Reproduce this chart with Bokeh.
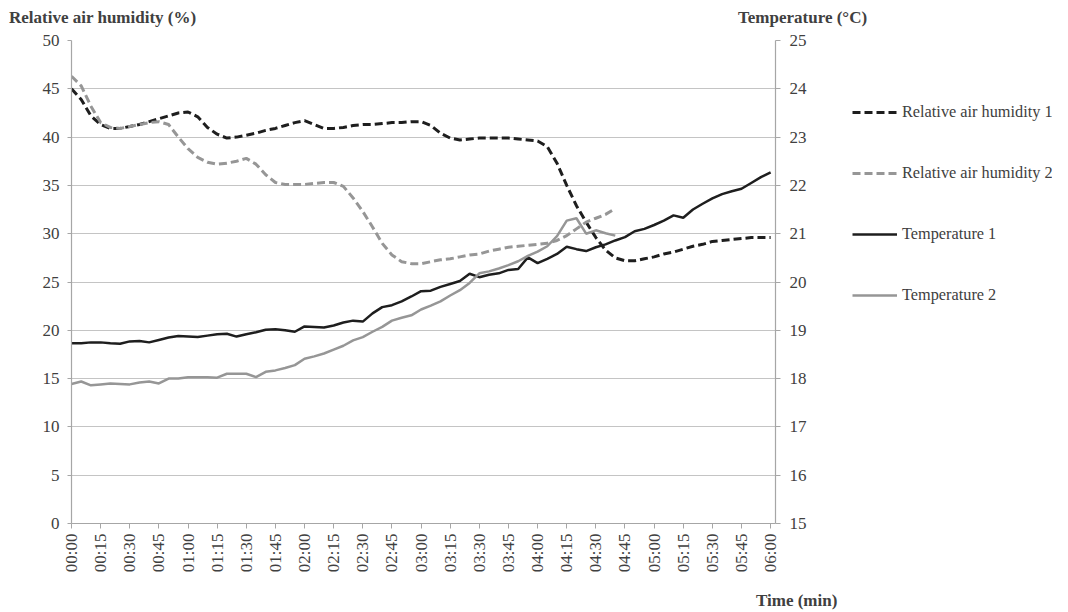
import math
from bokeh.plotting import figure
from bokeh.models import Range1d, LinearAxis, FixedTicker, Legend, LegendItem, Div
from bokeh.layouts import column, row
from bokeh.embed import file_html
from bokeh.resources import INLINE

# time in minutes since start (5-minute sampling)
time_min = list(range(0, 361, 5))

rh1 = [45.0, 43.9, 42.2, 41.3, 40.9, 40.9, 41.1, 41.3, 41.6, 41.9,
       42.2, 42.5, 42.6, 42.1, 41.0, 40.3, 39.9, 40.0, 40.2, 40.4,
       40.7, 40.9, 41.2, 41.5, 41.7, 41.3, 40.9, 40.9, 41.0, 41.2,
       41.3, 41.3, 41.4, 41.5, 41.5, 41.6, 41.6, 41.2, 40.4, 39.9,
       39.7, 39.8, 39.9, 39.9, 39.9, 39.9, 39.8, 39.7, 39.6, 39.0,
       37.3, 35.0, 32.9, 31.2, 29.6, 28.3, 27.5, 27.2, 27.2, 27.4,
       27.6, 27.9, 28.1, 28.4, 28.7, 28.9, 29.2, 29.3, 29.4, 29.5,
       29.6, 29.6, 29.6]

rh2 = [46.3, 45.3, 43.2, 41.5, 41.0, 40.9, 41.1, 41.3, 41.5, 41.6,
       41.3, 40.0, 38.8, 37.9, 37.4, 37.2, 37.3, 37.5, 37.8, 37.2,
       36.1, 35.3, 35.1, 35.1, 35.1, 35.2, 35.3, 35.3, 34.9, 33.7,
       32.3, 30.7, 29.0, 27.8, 27.1, 26.9, 26.9, 27.1, 27.3, 27.4,
       27.6, 27.8, 27.9, 28.2, 28.4, 28.6, 28.7, 28.8, 28.9, 29.0,
       29.3, 29.8, 30.5, 31.2, 31.6, 32.0, 32.6]

t1 = [18.73, 18.73, 18.75, 18.75, 18.73, 18.72, 18.77, 18.78, 18.75, 18.80,
      18.85, 18.88, 18.87, 18.86, 18.89, 18.92, 18.93, 18.87, 18.92, 18.96,
      19.01, 19.02, 19.00, 18.97, 19.08, 19.07, 19.06, 19.10, 19.16, 19.20,
      19.18, 19.35, 19.48, 19.52, 19.60, 19.70, 19.81, 19.82, 19.90, 19.96,
      20.02, 20.17, 20.10, 20.15, 20.18, 20.25, 20.27, 20.51, 20.39, 20.48,
      20.58, 20.73, 20.68, 20.64, 20.72, 20.78, 20.86, 20.93, 21.05, 21.10,
      21.18, 21.27, 21.38, 21.33, 21.50, 21.62, 21.73, 21.82, 21.88, 21.93,
      22.05, 22.17, 22.27]

t2 = [17.89, 17.94, 17.86, 17.88, 17.90, 17.89, 17.88, 17.92, 17.94, 17.90,
      18.00, 18.00, 18.03, 18.03, 18.03, 18.02, 18.10, 18.10, 18.10, 18.03,
      18.14, 18.17, 18.22, 18.28, 18.41, 18.46, 18.52, 18.60, 18.68, 18.79,
      18.86, 18.97, 19.07, 19.20, 19.26, 19.31, 19.43, 19.51, 19.60, 19.72,
      19.83, 19.98, 20.18, 20.22, 20.28, 20.35, 20.43, 20.54, 20.63, 20.74,
      20.95, 21.27, 21.32, 21.00, 21.07, 21.01, 20.96]

tick_minutes = [0, 15, 30, 45, 60, 75, 90, 105, 120, 135, 150, 165, 180,
                195, 210, 225, 240, 255, 270, 285, 300, 315, 330, 345, 360]
tick_labels = ["00:00", "00:15", "00:30", "00:45", "01:00", "01:15", "01:30",
               "01:45", "02:00", "02:15", "02:30", "02:45", "03:00", "03:15",
               "03:30", "03:45", "04:00", "04:15", "04:30", "04:45", "05:00",
               "05:15", "05:30", "05:45", "06:00"]
rh_ticks = [0, 5, 10, 15, 20, 25, 30, 35, 40, 45, 50]
temp_ticks = [15, 16, 17, 18, 19, 20, 21, 22, 23, 24, 25]

series_names = ["Relative air humidity 1", "Relative air humidity 2",
                "Temperature 1", "Temperature 2"]
left_title = "Relative air humidity (%)"
right_title = "Temperature (°C)"
x_title = "Time (min)"

FONT = "Liberation Serif"
TXT = "#404040"
AX = "#a6a6a6"
BLACK = "#1e1e1e"
GRAY = "#969696"
FS = "17px"

styles = [dict(line_color=BLACK, line_width=3, line_dash="8 4"),
          dict(line_color=GRAY, line_width=3, line_dash="8 4"),
          dict(line_color=BLACK, line_width=2.5),
          dict(line_color=GRAY, line_width=2.5)]
series_y = [rh1, rh2, t1, t2]

# ---------------- main chart ----------------
p = figure(width=827, height=552, output_backend="svg", toolbar_location=None,
           x_range=Range1d(0, 362.5), y_range=Range1d(0, 50),
           min_border_left=71, min_border_right=52, min_border_top=8,
           min_border_bottom=61)
p.extra_y_ranges = {"temp": Range1d(15, 25)}
p.outline_line_color = None
p.background_fill_color = "white"
p.border_fill_color = "white"
p.xgrid.visible = False
p.ygrid.ticker = FixedTicker(ticks=rh_ticks)
p.ygrid.grid_line_color = "#c4c4c4"
p.ygrid.grid_line_width = 1.2

p.line(time_min, rh1, **styles[0])
p.line(time_min[:len(rh2)], rh2, **styles[1])
p.line(time_min, t1, y_range_name="temp", **styles[2])
p.line(time_min[:len(t2)], t2, y_range_name="temp", **styles[3])

def style_axis(ax):
    ax.axis_line_color = AX
    ax.axis_line_width = 1.2
    ax.major_tick_line_color = AX
    ax.major_tick_in = 0
    ax.major_tick_out = 5
    ax.minor_tick_line_color = None
    ax.major_label_text_font = FONT
    ax.major_label_text_font_size = FS
    ax.major_label_text_color = TXT

xa = p.xaxis[0]
style_axis(xa)
xa.ticker = FixedTicker(ticks=tick_minutes)
xa.major_label_overrides = {m: l for m, l in zip(tick_minutes, tick_labels)}
xa.major_label_orientation = math.pi / 2
xa.major_label_standoff = 5

ya = p.yaxis[0]
style_axis(ya)
ya.ticker = FixedTicker(ticks=rh_ticks)
ya.major_tick_out = 4
ya.major_label_standoff = 8

ra = LinearAxis(y_range_name="temp", ticker=FixedTicker(ticks=temp_ticks))
style_axis(ra)
ra.major_label_standoff = 9
p.add_layout(ra, "right")

# ---------------- legend panel ----------------
# the key renderers hold the same series but lie outside this panel's ranges,
# so only their legend samples are visible
pl = figure(width=225, height=552, output_backend="svg", toolbar_location=None,
            x_range=Range1d(-2, -1), y_range=Range1d(-2, -1),
            x_axis_type=None, y_axis_type=None, min_border=0)
pl.outline_line_color = None
pl.xgrid.visible = False
pl.ygrid.visible = False
pl.background_fill_color = "white"
pl.border_fill_color = "white"
key_renderers = [pl.line(time_min[:len(ys)], ys, **s) for ys, s in zip(series_y, styles)]

legend = Legend(items=[LegendItem(label=n, renderers=[r])
                       for n, r in zip(series_names, key_renderers)],
                location=(25, 218), orientation="vertical")
legend.background_fill_alpha = 0
legend.border_line_color = None
legend.padding = 0
legend.margin = 0
legend.glyph_width = 45
legend.glyph_height = 20
legend.label_height = 20
legend.spacing = 41
legend.label_standoff = 5
legend.label_text_font = FONT
legend.label_text_font_size = "16.3px"
legend.label_text_color = TXT
pl.add_layout(legend, "center")

# ---------------- axis titles ----------------
base = ("font-family:'Liberation Serif',serif;font-weight:bold;font-size:17px;"
        "color:#404040;white-space:nowrap;line-height:20px;")
top_div = Div(width=1052, height=22,
              text=(f'<div style="position:relative;width:1052px;height:22px;{base}">'
                    f'<span style="position:absolute;left:4px;top:3px;">{left_title}</span>'
                    f'<span style="position:absolute;left:733px;top:3px;">{right_title}</span>'
                    '</div>'))
bottom_div = Div(width=1052, height=26,
                 text=(f'<div style="position:relative;width:1052px;height:26px;{base}">'
                       f'<span style="position:absolute;left:751px;top:2px;">{x_title}</span>'
                       '</div>'))

layout = column(top_div, row(p, pl), bottom_div)
open("out.html", "w").write(file_html(layout, INLINE))
